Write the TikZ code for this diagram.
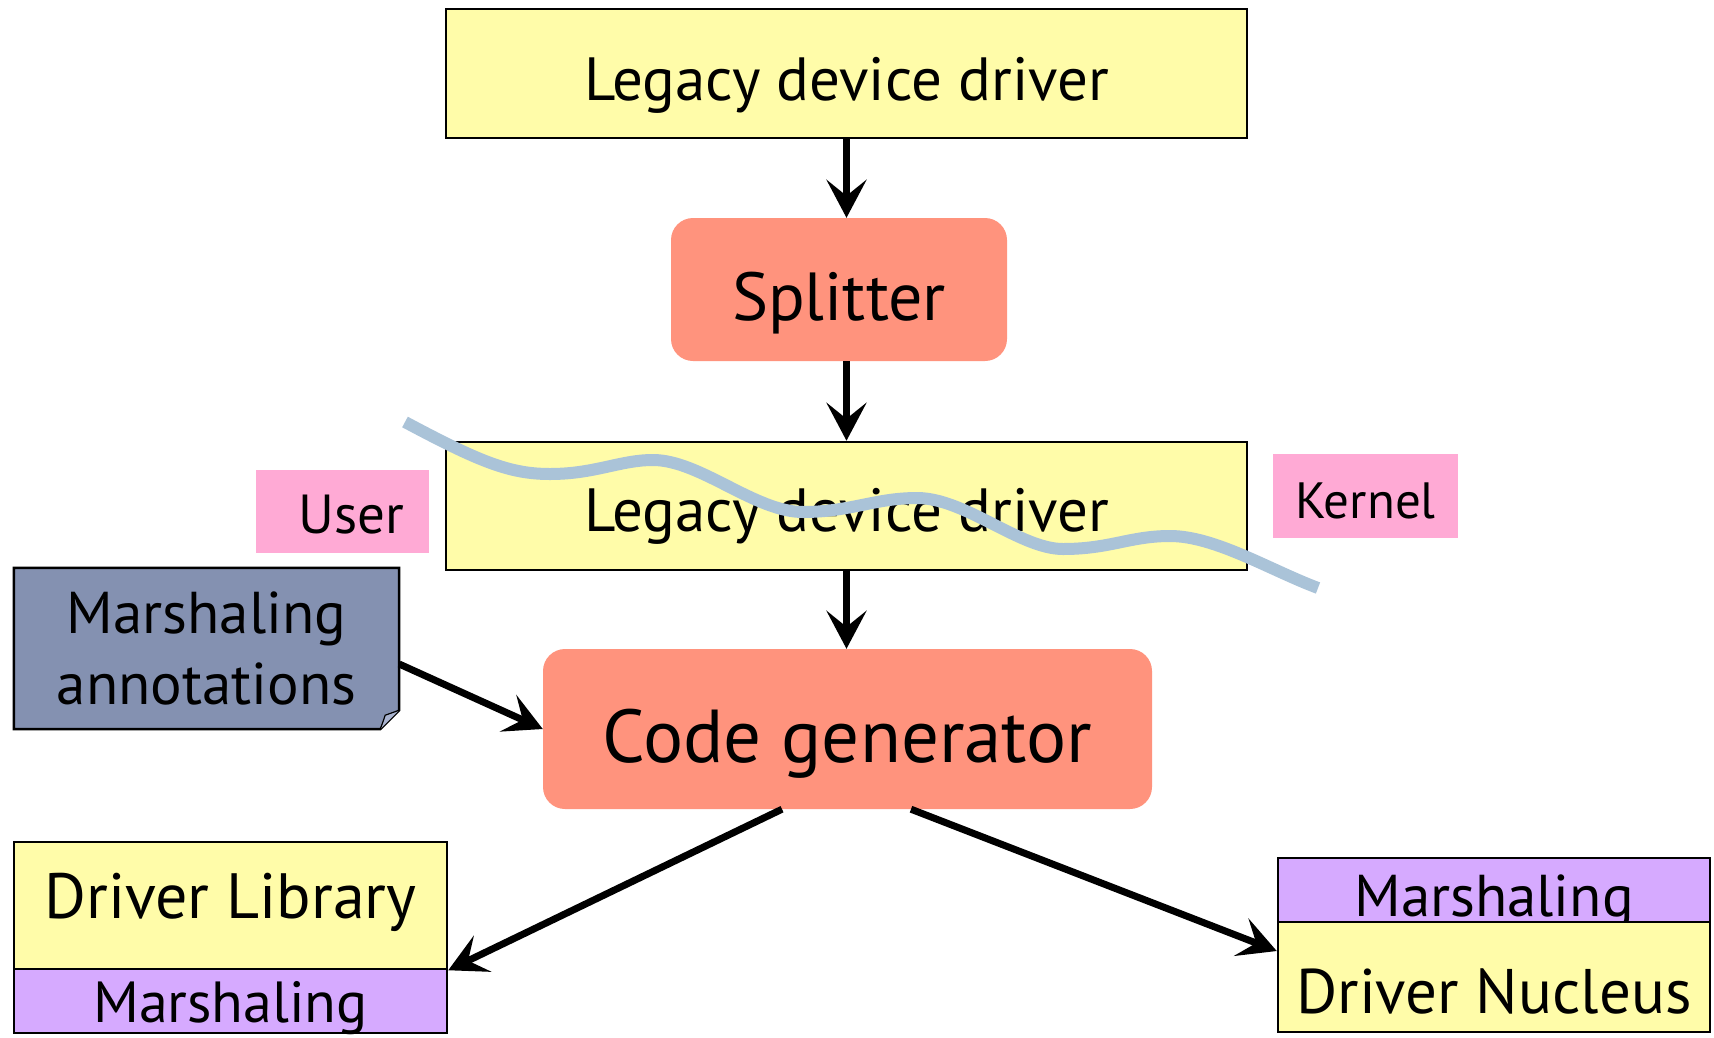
\documentclass[tikz,border=0pt]{standalone}
\usepackage{fontspec}
\setmainfont{PT Sans}
\usetikzlibrary{arrows.meta,backgrounds,calc}
\definecolor{lyellow}{HTML}{FFFCA9}
\definecolor{salmon}{HTML}{FF937D}
\definecolor{lpink}{HTML}{FFAAD5}
\definecolor{annblue}{HTML}{8491B1}
\definecolor{flapblue}{HTML}{A9B3CF}
\definecolor{lavender}{HTML}{D6AAFF}
\definecolor{wave}{HTML}{AAC3D8}
\tikzset{
  ybox/.style={draw=black, line width=2.5pt, fill=lyellow, inner sep=0pt},
  mbox/.style={draw=black, line width=2.5pt, fill=lavender, inner sep=0pt},
  rbox/.style={fill=salmon, rounded corners=22pt, inner sep=0pt},
  pbox/.style={fill=lpink, inner sep=0pt},
  annbox/.style={inner sep=0pt, align=center},
  arr/.style={line width=7pt, -{Stealth[length=38pt,width=40pt,inset=16pt]}},
  fs/.style={font=\fontsize{#1}{#1}\selectfont},
  bl/.style={text height=#1, text depth=0pt},
}
\begin{document}
\begin{tikzpicture}[x=1pt,y=-1pt]
\useasboundingbox (0,0) rectangle (1714,1037);
\node[ybox, fs=61, bl=54pt, minimum width=801pt, minimum height=129pt] (top) at (846.5,73.5) {Legacy device driver};
\node[rbox, fs=68, bl=61pt, minimum width=336pt, minimum height=143pt] (split) at (839,289.5) {Splitter};
\node[ybox, fs=61, bl=50pt, minimum width=801pt, minimum height=128pt] (mid) at (846.5,506) {Legacy device driver};
\node[pbox, fs=55, bl=44pt, minimum width=173pt, minimum height=83pt] (user) at (342.5,511.5) {\hspace{18pt}User};
\node[pbox, fs=51, bl=44pt, minimum width=185pt, minimum height=84pt] (kernel) at (1365.5,496) {Kernel};
\node[annbox, font=\fontsize{59}{71}\selectfont, minimum width=385pt, minimum height=161pt] (ann) at (206.5,648.5) {Marshaling\\annotations};
\begin{scope}[on background layer]
\draw[fill=annblue, line width=2.5pt] (ann.north west) -- (ann.north east) -- ($(ann.south east)+(0,-19)$) -- ($(ann.south east)+(-19,0)$) -- (ann.south west) -- cycle;
\fill[flapblue] ($(ann.south east)+(-19,0)$) .. controls ($(ann.south east)+(-16,-8)$) .. ($(ann.south east)+(-14,-14)$) -- ($(ann.south east)+(0,-19)$) -- cycle;
\draw[line width=1.2pt] ($(ann.south east)+(-19,0)$) .. controls ($(ann.south east)+(-16,-8)$) .. ($(ann.south east)+(-14,-14)$) -- ($(ann.south east)+(0,-19)$);
\end{scope}
\node[rbox, fs=75, bl=66pt, minimum width=609pt, minimum height=160pt] (code) at (847.5,729) {Code generator};
\node[ybox, fs=64, bl=25pt, minimum width=433pt, minimum height=127pt] (lib) at (230.5,905.5) {Driver Library};
\node[mbox, fs=58, bl=42pt, minimum width=433pt, minimum height=64pt] (libm) at (230.5,1001) {Marshaling};
\node[mbox, fs=59, bl=52pt, minimum width=432pt, minimum height=64pt] (nm) at (1494,890) {Marshaling};
\node[ybox, fs=63, bl=72pt, minimum width=432pt, minimum height=110pt] (nuc) at (1494,977) {Driver Nucleus};
\draw[arr] (top.south) -- (top.south |- split.north);
\draw[arr] (top.south |- split.south) -- (mid.north);
\draw[arr] (mid.south) -- (mid.south |- code.north);
\draw[arr] ($(ann.east)+(0,15.5)$) -- (code.west);
\draw[arr] ($(code.south)+(-65.5,0)$) -- (lib.south east);
\draw[arr] ($(code.south)+(63.5,0)$) -- ($(nuc.west)+(0,-26)$);
\draw[wave, line width=12pt] (405,422) .. controls (480,462) and (510,474) .. (550,474)
  .. controls (595,474) and (620,460) .. (653,460)
  .. controls (700,460) and (755,512) .. (803,512)
  .. controls (850,512) and (875,498) .. (917,498)
  .. controls (965,498) and (1020,549) .. (1063,549)
  .. controls (1110,549) and (1130,536) .. (1170,536)
  .. controls (1215,536) and (1270,570) .. (1318,588);
\end{tikzpicture}
\end{document}
